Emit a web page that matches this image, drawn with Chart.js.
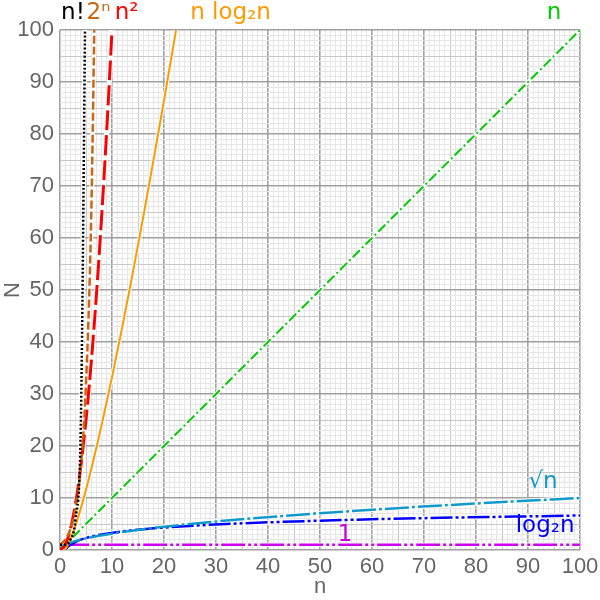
<!DOCTYPE html>
<html>
<head>
<meta charset="utf-8">
<script src="https://cdn.jsdelivr.net/npm/chart.js@4"></script>
<style>
  html, body { margin: 0; padding: 0; background: #fff; }
  #wrap { width: 600px; height: 600px; }
</style>
</head>
<body>
<div id="wrap"><canvas id="chart"></canvas></div>
<script>
// Values
const factN = [0, 1, 2, 3, 4, 5];
const factV = [1, 1, 2, 6, 24, 120];
const expN = [0, 1, 2, 3, 4, 5, 6, 7];
const expV = [1, 2, 4, 8, 16, 32, 64, 128];
const sqN = [0, 1, 2, 3, 4, 5, 6, 7, 8, 9, 10, 11];
const sqV = [0, 1, 4, 9, 16, 25, 36, 49, 64, 81, 100, 121];
const nlogN = [1, 2, 3, 4, 5, 6, 8, 10, 12, 14, 16, 18, 20, 22, 24];
const nlogV = [0, 2, 4.75, 8, 11.61, 15.51, 24, 33.22, 43.02, 53.3, 64, 75.06, 86.44, 98.1, 110.04];
const linN = [0, 100];
const linV = [0, 100];
const sqrtN = [0, 0.25, 1, 2, 4, 6, 9, 16, 25, 36, 49, 64, 81, 100];
const sqrtV = [0, 0.5, 1, 1.41, 2, 2.45, 3, 4, 5, 6, 7, 8, 9, 10];
const logN = [1, 1.5, 2, 3, 4, 6, 8, 12, 16, 24, 32, 48, 64, 100];
const logV = [0, 0.58, 1, 1.58, 2, 2.58, 3, 3.58, 4, 4.58, 5, 5.58, 6, 6.64];
const constN = [1, 100];
const constV = [1, 1];

// curve labels: text, n, N (data units)
const labelText = ['n!', '2ⁿ', 'n²', 'n log₂n', 'n', '√n', 'log₂n', '1'];
const labelN = [2.5, 7.4, 12.8, 32.8, 95, 92.9, 93.3, 54.8];
const labelV = [103.2, 103.2, 103.2, 103.2, 103.2, 13.1, 4.6, 2.9];
const labelColors = ['#000000', '#cc6611', '#ff0000', '#ff9900', '#00cc00', '#1199cc', '#0000ff', '#cc00dd'];

function pts(xs, ys) {
    return xs.map((x, i) => ({ x: x, y: ys[i] }));
}

function series(xs, ys, color, width, dash) {
    return {
        data: pts(xs, ys),
        borderColor: color,
        borderWidth: width,
        borderDash: dash,
        pointRadius: 0,
        fill: false,
        cubicInterpolationMode: 'monotone'
    };
}

// white outline drawn under each curve
function halo(xs, ys, width) {
    return {
        data: pts(xs, ys),
        borderColor: '#ffffff',
        borderWidth: width + 2,
        pointRadius: 0,
        fill: false,
        cubicInterpolationMode: 'monotone'
    };
}

// first in list ends up on top
const curves = [
    [factN, factV, '#000000', 2.5, [2, 2]],
    [expN, expV, '#cc6611', 2.5, [8, 3]],
    [sqN, sqV, '#ff0000', 3, [20, 5]],
    [nlogN, nlogV, '#ff9900', 2, []],
    [linN, linV, '#00cc00', 2, [10, 3, 2, 3]],
    [sqrtN, sqrtV, '#1199cc', 2.5, [24, 3, 3, 3]],
    [logN, logV, '#0000ff', 2.5, [22, 3, 3, 3, 3, 3]],
    [constN, constV, '#cc00ee', 2.5, [24, 3, 3, 3, 3, 3]]
];

const datasets = [];
curves.forEach(c => datasets.push(series(c[0], c[1], c[2], c[3], c[4])));
curves.forEach(c => datasets.push(halo(c[0], c[1], c[3])));

function gridColor(ctx) {
    const v = ctx.tick ? ctx.tick.value : 0;
    if (v % 10 === 0) return '#a0a0a0';
    if (v % 5 === 0) return '#c8c8c8';
    return '#e6e6e6';
}

function gridWidth(ctx) {
    const v = ctx.tick ? ctx.tick.value : 0;
    return v % 10 === 0 ? 1.6 : 1;
}

const curveLabels = {
    id: 'curveLabels',
    afterDraw(chart) {
        const c = chart.ctx;
        const xs = chart.scales.x, ys = chart.scales.y;
        c.save();
        c.font = '23px "DejaVu Sans"';
        c.textAlign = 'center';
        c.textBaseline = 'middle';
        labelText.forEach((t, i) => {
            c.fillStyle = labelColors[i];
            c.fillText(t, xs.getPixelForValue(labelN[i]), ys.getPixelForValue(labelV[i]));
        });
        c.restore();
    }
};

const tickFont = { family: '"Liberation Sans", Arial, sans-serif', size: 22 };

new Chart(document.getElementById('chart').getContext('2d'), {
    type: 'line',
    data: { datasets: datasets },
    options: {
        responsive: true,
        maintainAspectRatio: false,
        animation: false,
        layout: { padding: { top: 30, right: 20, left: 0, bottom: 0 } },
        plugins: { legend: { display: false }, tooltip: { enabled: false } },
        scales: {
            x: {
                type: 'linear',
                min: 0,
                max: 100,
                border: { display: false },
                grid: { color: gridColor, lineWidth: gridWidth, drawTicks: false },
                ticks: {
                    stepSize: 1,
                    autoSkip: false,
                    maxRotation: 0,
                    padding: 4,
                    color: '#666666',
                    font: tickFont,
                    callback: v => (v % 10 === 0 ? v : '')
                },
                title: { display: true, text: 'n', color: '#666666', font: tickFont, padding: 0 },
                afterFit: s => { s.height = 50; s.paddingRight = 0; s.paddingLeft = 0; }
            },
            y: {
                type: 'linear',
                min: 0,
                max: 100,
                border: { display: false },
                grid: { color: gridColor, lineWidth: gridWidth, drawTicks: false },
                ticks: {
                    stepSize: 1,
                    autoSkip: false,
                    padding: 6,
                    color: '#666666',
                    font: tickFont,
                    callback: v => (v % 10 === 0 ? v : '')
                },
                title: { display: true, text: 'N', color: '#666666', font: tickFont, padding: 0 },
                afterFit: s => { s.width = 60; s.paddingTop = 0; s.paddingBottom = 0; }
            }
        }
    },
    plugins: [curveLabels]
});
</script>
</body>
</html>
